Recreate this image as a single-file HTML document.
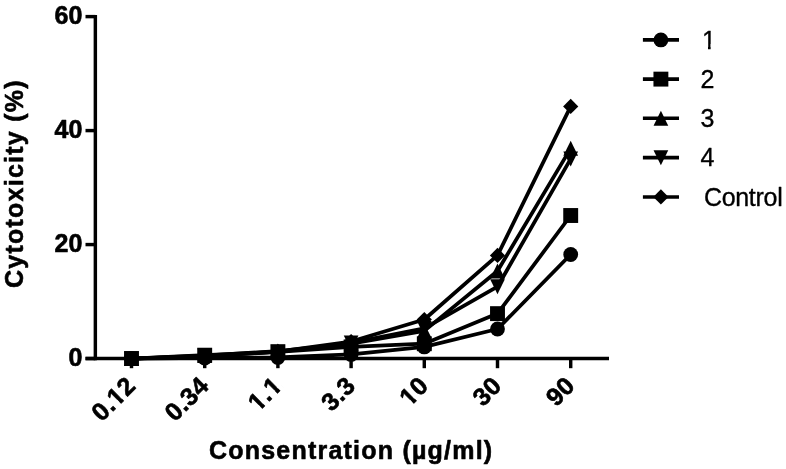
<!DOCTYPE html>
<html lang="en"><head><meta charset="utf-8"><title>Cytotoxicity chart</title>
<style>
html,body{margin:0;padding:0;background:#fff;}
body{width:786px;height:469px;overflow:hidden;}
svg{display:block;}
text{font-family:"Liberation Sans",Arial,Helvetica,sans-serif;fill:#000;}
.b{font-weight:bold;stroke:#000;stroke-width:0.6px;stroke-linejoin:round;}
.r{stroke:#000;stroke-width:0.35px;stroke-linejoin:round;}
</style></head><body>
<svg width="786" height="469" viewBox="0 0 786 469">
<rect width="786" height="469" fill="#fff"/>

<g stroke="#000" stroke-width="3.45" fill="none" stroke-linecap="butt">
<path d="M95.35 14.89V360.27"/>
<path d="M85.5 358.55H609"/>
<path d="M85.5 358.55H95.35"/>
<path d="M85.5 244.57H95.35"/>
<path d="M85.5 130.59H95.35"/>
<path d="M85.5 16.61H95.35"/>
<path d="M131.5 358.55V368.2"/>
<path d="M204.7 358.55V368.2"/>
<path d="M277.9 358.55V368.2"/>
<path d="M351.1 358.55V368.2"/>
<path d="M424.3 358.55V368.2"/>
<path d="M497.5 358.55V368.2"/>
<path d="M570.7 358.55V368.2"/>
</g>
<polyline points="131.5,358.6 204.7,358.0 277.9,357.4 351.1,354.4 424.3,346.9 497.5,329.0 570.7,254.5" fill="none" stroke="#000" stroke-width="3.75" stroke-linejoin="round"/>
<g fill="#000"><circle cx="131.5" cy="358.6" r="7.4"/><circle cx="204.7" cy="358.0" r="7.4"/><circle cx="277.9" cy="357.4" r="7.4"/><circle cx="351.1" cy="354.4" r="7.4"/><circle cx="424.3" cy="346.9" r="7.4"/><circle cx="497.5" cy="329.0" r="7.4"/><circle cx="570.7" cy="254.5" r="7.4"/></g>
<polyline points="131.5,358.6 204.7,355.2 277.9,351.8 351.1,346.9 424.3,343.7 497.5,313.6 570.7,215.5" fill="none" stroke="#000" stroke-width="3.75" stroke-linejoin="round"/>
<g fill="#000"><rect x="124.05" y="351.10" width="14.9" height="14.9"/><rect x="197.25" y="347.74" width="14.9" height="14.9"/><rect x="270.45" y="344.38" width="14.9" height="14.9"/><rect x="343.65" y="339.47" width="14.9" height="14.9"/><rect x="416.85" y="336.28" width="14.9" height="14.9"/><rect x="490.05" y="306.19" width="14.9" height="14.9"/><rect x="563.25" y="208.06" width="14.9" height="14.9"/></g>
<polyline points="131.5,358.6 204.7,355.7 277.9,351.1 351.1,343.7 424.3,330.9 497.5,271.0 570.7,148.4" fill="none" stroke="#000" stroke-width="3.75" stroke-linejoin="round"/>
<g fill="#000"><path d="M124.15 365.9L138.85 365.9L131.5 350.9Z"/><path d="M197.35 363.1L212.05 363.1L204.7 348.1Z"/><path d="M270.55 358.5L285.25 358.5L277.9 343.5Z"/><path d="M343.75 351.1L358.45 351.1L351.1 336.1Z"/><path d="M416.95 338.3L431.65 338.3L424.3 323.3Z"/><path d="M490.15 278.4L504.85 278.4L497.5 263.4Z"/><path d="M563.35 155.8L578.05 155.8L570.7 140.8Z"/></g>
<polyline points="131.5,358.6 204.7,356.0 277.9,352.0 351.1,342.9 424.3,328.3 497.5,286.7 570.7,158.9" fill="none" stroke="#000" stroke-width="3.75" stroke-linejoin="round"/>
<g fill="#000"><path d="M124.15 351.2L138.85 351.2L131.5 366.2Z"/><path d="M197.35 348.6L212.05 348.6L204.7 363.6Z"/><path d="M270.55 344.6L285.25 344.6L277.9 359.6Z"/><path d="M343.75 335.5L358.45 335.5L351.1 350.5Z"/><path d="M416.95 320.9L431.65 320.9L424.3 335.9Z"/><path d="M490.15 279.3L504.85 279.3L497.5 294.3Z"/><path d="M563.35 151.5L578.05 151.5L570.7 166.5Z"/></g>
<polyline points="131.5,358.6 204.7,356.3 277.9,351.7 351.1,341.5 424.3,319.5 497.5,255.4 570.7,106.4" fill="none" stroke="#000" stroke-width="3.75" stroke-linejoin="round"/>
<g fill="#000"><path d="M123.9 358.6L131.5 350.9L139.1 358.6L131.5 366.2Z"/><path d="M197.1 356.3L204.7 348.7L212.3 356.3L204.7 363.9Z"/><path d="M270.3 351.7L277.9 344.1L285.5 351.7L277.9 359.3Z"/><path d="M343.5 341.5L351.1 333.9L358.7 341.5L351.1 349.1Z"/><path d="M416.7 319.5L424.3 311.9L431.9 319.5L424.3 327.1Z"/><path d="M489.9 255.4L497.5 247.8L505.1 255.4L497.5 263.0Z"/><path d="M563.1 106.4L570.7 98.8L578.3 106.4L570.7 114.0Z"/></g>
<text class="b" x="82.4" y="366.2" font-size="25" letter-spacing="0.1" text-anchor="end">0</text>
<text class="b" x="82.4" y="252.3" font-size="25" letter-spacing="0.1" text-anchor="end">20</text>
<text class="b" x="82.4" y="138.3" font-size="25" letter-spacing="0.1" text-anchor="end">40</text>
<text class="b" x="82.4" y="24.3" font-size="25" letter-spacing="0.1" text-anchor="end">60</text>
<text class="b" font-size="25" letter-spacing="0.3" text-anchor="end" clip-path="url(#k0)" transform="translate(137.1,387.3) rotate(-45)">0.12</text>
<text class="b" font-size="25" letter-spacing="0.3" text-anchor="end" transform="translate(210.3,387.3) rotate(-45)">0.34</text>
<text class="b" font-size="25" letter-spacing="0.3" text-anchor="end" clip-path="url(#k2)" transform="translate(283.5,387.3) rotate(-45)">1.1</text>
<text class="b" font-size="25" letter-spacing="0.3" text-anchor="end" transform="translate(356.7,387.3) rotate(-45)">3.3</text>
<text class="b" font-size="25" letter-spacing="0.3" text-anchor="end" clip-path="url(#k4)" transform="translate(429.9,387.3) rotate(-45)">10</text>
<text class="b" font-size="25" letter-spacing="0.3" text-anchor="end" transform="translate(503.1,387.3) rotate(-45)">30</text>
<text class="b" font-size="25" letter-spacing="0.3" text-anchor="end" transform="translate(576.3,387.3) rotate(-45)">90</text>
<text class="b" font-size="25" letter-spacing="1.22" text-anchor="middle" x="351.2" y="459.2">Consentration (µg/ml)</text>
<text class="b" font-size="25" letter-spacing="1.25" text-anchor="middle" transform="translate(22.8,183.6) rotate(-90)">Cytotoxicity (%)</text>
<path d="M642.9 39.85H679" stroke="#000" stroke-width="3.6" fill="none"/>
<g fill="#000"><circle cx="660.9" cy="39.9" r="7.4"/></g>
<text class="r" font-size="25" clip-path="url(#kl)" x="701.9" y="48.5">1</text>
<path d="M642.9 79.12H679" stroke="#000" stroke-width="3.6" fill="none"/>
<g fill="#000"><rect x="653.45" y="71.67" width="14.9" height="14.9"/></g>
<text class="r" font-size="25" x="700.4" y="87.8">2</text>
<path d="M642.9 118.3H679" stroke="#000" stroke-width="3.6" fill="none"/>
<g fill="#000"><path d="M653.55 125.7L668.25 125.7L660.9 110.7Z"/></g>
<text class="r" font-size="25" x="700.4" y="127.0">3</text>
<path d="M642.9 157.6H679" stroke="#000" stroke-width="3.6" fill="none"/>
<g fill="#000"><path d="M653.55 150.2L668.25 150.2L660.9 165.2Z"/></g>
<text class="r" font-size="25" x="700.4" y="166.3">4</text>
<path d="M642.9 196.93H679" stroke="#000" stroke-width="3.6" fill="none"/>
<g fill="#000"><path d="M653.3 196.9L660.9 189.3L668.5 196.9L660.9 204.5Z"/></g>
<text class="r" font-size="25" letter-spacing="-0.3" x="703.9" y="205.6">Control</text>
<defs><clipPath id="k0"><rect x="-90" y="-40" width="120" height="35.00"/><rect x="-90.00" y="-5.02" width="62.00" height="25.00"/><rect x="-22.95" y="-5.02" width="4.20" height="25.00"/><rect x="-14.35" y="-5.02" width="44.35" height="25.00"/></clipPath><clipPath id="k2"><rect x="-90" y="-40" width="120" height="35.00"/><rect x="-90.00" y="-5.02" width="54.75" height="25.00"/><rect x="-30.20" y="-5.02" width="4.20" height="25.00"/><rect x="-21.60" y="-5.02" width="7.80" height="25.00"/><rect x="-8.75" y="-5.02" width="4.20" height="25.00"/><rect x="-0.15" y="-5.02" width="30.15" height="25.00"/></clipPath><clipPath id="k4"><rect x="-90" y="-40" width="120" height="35.00"/><rect x="-90.00" y="-5.02" width="62.00" height="25.00"/><rect x="-22.95" y="-5.02" width="4.20" height="25.00"/><rect x="-14.35" y="-5.02" width="44.35" height="25.00"/></clipPath><clipPath id="kl"><rect x="690" y="20" width="40" height="24.05"/><rect x="690.00" y="44.03" width="12.30" height="15.95"/><rect x="708.00" y="44.03" width="2.60" height="15.95"/><rect x="715.90" y="44.03" width="14.10" height="15.95"/></clipPath></defs>
</svg>
</body></html>
